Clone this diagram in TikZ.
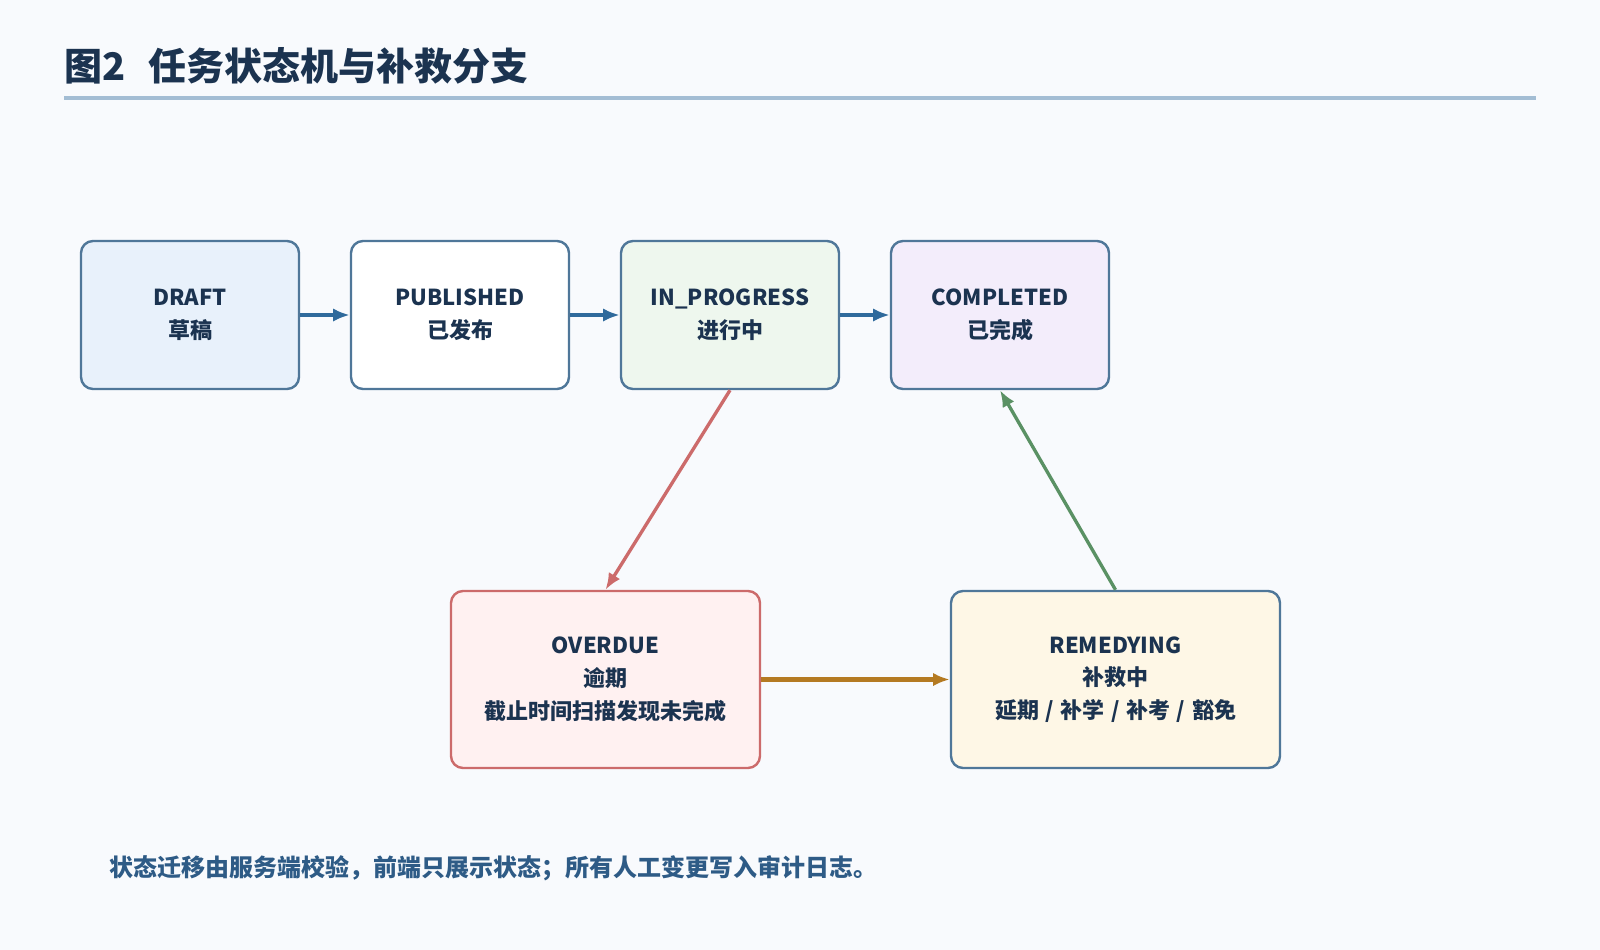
\documentclass[tikz,border=0pt]{standalone}
\usepackage{fontspec}
\setmainfont{Noto Sans CJK SC}
\usetikzlibrary{arrows.meta}
\definecolor{Canvas}{HTML}{F8FAFD}
\definecolor{Ink}{HTML}{1B3350}
\definecolor{Frame}{HTML}{4F7799}
\definecolor{Rule}{HTML}{A3BDD4}
\definecolor{FlowBlue}{HTML}{2F6A9C}
\definecolor{LateRed}{HTML}{CC6B6B}
\definecolor{FixGreen}{HTML}{5A9164}
\definecolor{FixAmber}{HTML}{B47A22}
\definecolor{DraftFill}{HTML}{E8F1FB}
\definecolor{ProgFill}{HTML}{EEF7EE}
\definecolor{DoneFill}{HTML}{F3EDFB}
\definecolor{LateFill}{HTML}{FFF1F1}
\definecolor{FixFill}{HTML}{FEF7E6}
\definecolor{NoteInk}{HTML}{2E5B86}

\begin{document}
\begin{tikzpicture}[x=0.75pt,y=-0.75pt,>={Latex[length=12.5pt,width=10pt]},every node/.style={text=Ink,inner sep=0pt},statebox/.style={draw=Frame,line width=1.8pt,rounded corners=9pt,align=center,minimum width=163.5pt,minimum height=111pt,font=\fontsize{16.5}{24.5}\selectfont\bfseries,execute at begin node=\rule{0pt}{15pt}},flow/.style={->,line width=3.2pt,draw=FlowBlue},branch/.style={->,line width=2.5pt}]
\fill[Canvas] (0,0) rectangle (1600,950);
\useasboundingbox (0,0) rectangle (1600,950);
\node[anchor=west,font=\fontsize{28.5}{34}\selectfont\bfseries] (title) at (64,66){图2\hspace{0.6em}任务状态机与补救分支};
\draw[Rule,line width=2.8pt] (64,98)--(1536,98);
% main line of states
\node[statebox,fill=DraftFill] (draft) at (190,315){DRAFT\\草稿};
\node[statebox,fill=white] (pub) at (460,315){PUBLISHED\\已发布};
\node[statebox,fill=ProgFill] (prog) at (730,315){IN\_PROGRESS\\进行中};
\node[statebox,fill=DoneFill] (done) at (1000,315){COMPLETED\\已完成};
% remedy branch
\node[statebox,fill=LateFill,draw=LateRed,minimum width=231.75pt,minimum height=132.75pt] (late) at (605.5,679.5){OVERDUE\\逾期\\截止时间扫描发现未完成};
\node[statebox,fill=FixFill,minimum width=246.75pt,minimum height=132.75pt] (fix) at (1115.5,679.5){REMEDYING\\补救中\\延期\hspace{0.3em}/\hspace{0.3em}补学\hspace{0.3em}/\hspace{0.3em}补考\hspace{0.3em}/\hspace{0.3em}豁免};
\draw[flow](draft)--(pub);
\draw[flow](pub)--(prog);
\draw[flow](prog)--(done);
\draw[branch,draw=LateRed](prog.south)--(late.north);
\draw[branch,draw=FixAmber,line width=3.2pt](late)--(fix);
\draw[branch,draw=FixGreen](fix.north)--(done.south);
\node[anchor=west,text=NoteInk,font=\fontsize{18}{21}\selectfont\bfseries] (note) at (109,868){状态迁移由服务端校验，前端只展示状态；所有人工变更写入审计日志。};
\end{tikzpicture}
\end{document}
